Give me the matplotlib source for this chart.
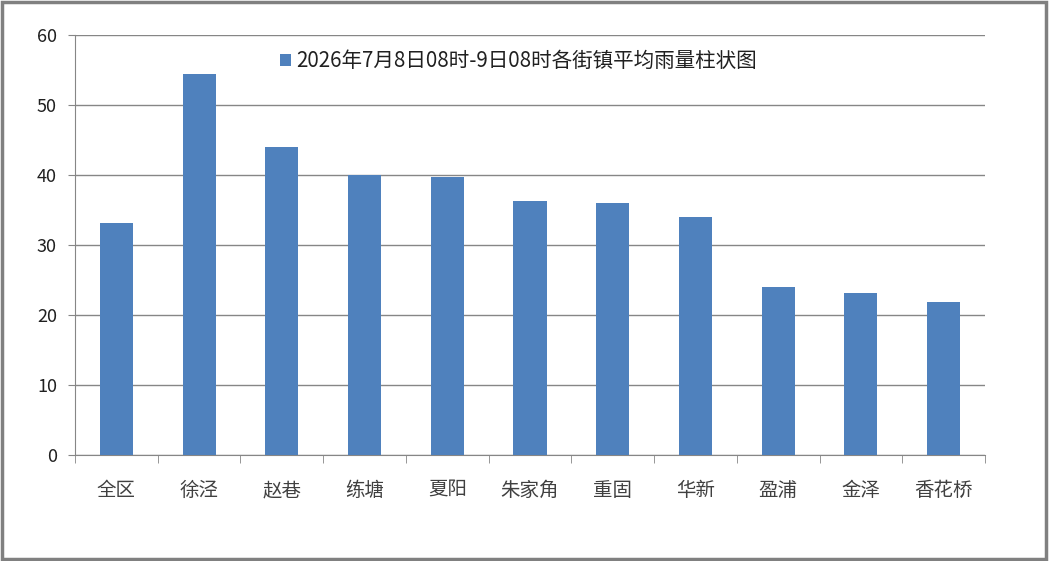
import matplotlib
matplotlib.use('Agg')
import matplotlib.pyplot as plt
import numpy as np
from matplotlib.patches import Rectangle

plt.rcParams['font.family'] = ['Noto Sans CJK SC', 'DejaVu Sans']

towns = ['全区', '徐泾', '赵巷', '练塘', '夏阳', '朱家角', '重固', '华新', '盈浦', '金泽', '香花桥']
rain = [33.2, 54.5, 44.0, 40.0, 39.7, 36.3, 36.0, 34.0, 24.0, 23.2, 21.9]
series_name = '2026年7月8日08时-9日08时各街镇平均雨量柱状图'

fig = plt.figure(figsize=(10.49, 5.61), dpi=100)
ax = fig.add_axes([75 / 1049, 106 / 561, 910 / 1049, 420 / 561])

x = np.arange(len(towns))
ax.bar(x, rain, width=0.4, color='#4F81BD', label=series_name, zorder=3)

ax.set_xlim(-0.5, len(towns) - 0.5)
ax.set_ylim(0, 60)
ax.set_yticks(range(0, 61, 10))
ax.yaxis.grid(True, color='#868686', linewidth=1, zorder=0)

ax.set_xticks(x)
ax.set_xticklabels(towns, fontsize=14, color='#404040')
ax.set_xticks(np.arange(-0.5, len(towns)), minor=True)
ax.tick_params(axis='x', which='major', length=0, pad=18)
ax.tick_params(axis='x', which='minor', length=6, color='#868686', direction='out')
ax.tick_params(axis='y', length=5, color='#868686', labelsize=13, pad=8, labelcolor='#202020')

for s in ['top', 'right']:
    ax.spines[s].set_visible(False)
for s in ['left', 'bottom']:
    ax.spines[s].set_color('#868686')

ax.legend(loc='upper left', bbox_to_anchor=(0.205, 1.008), frameon=False,
          fontsize=14.8, handlelength=0.55, handleheight=0.55, handletextpad=0.25,
          labelcolor='#202020')

fig.patches.append(Rectangle((0.002, 0.003), 0.995, 0.993, transform=fig.transFigure,
                             fill=False, edgecolor='#808080', linewidth=2.5))

fig.savefig('out.png', dpi=100)
